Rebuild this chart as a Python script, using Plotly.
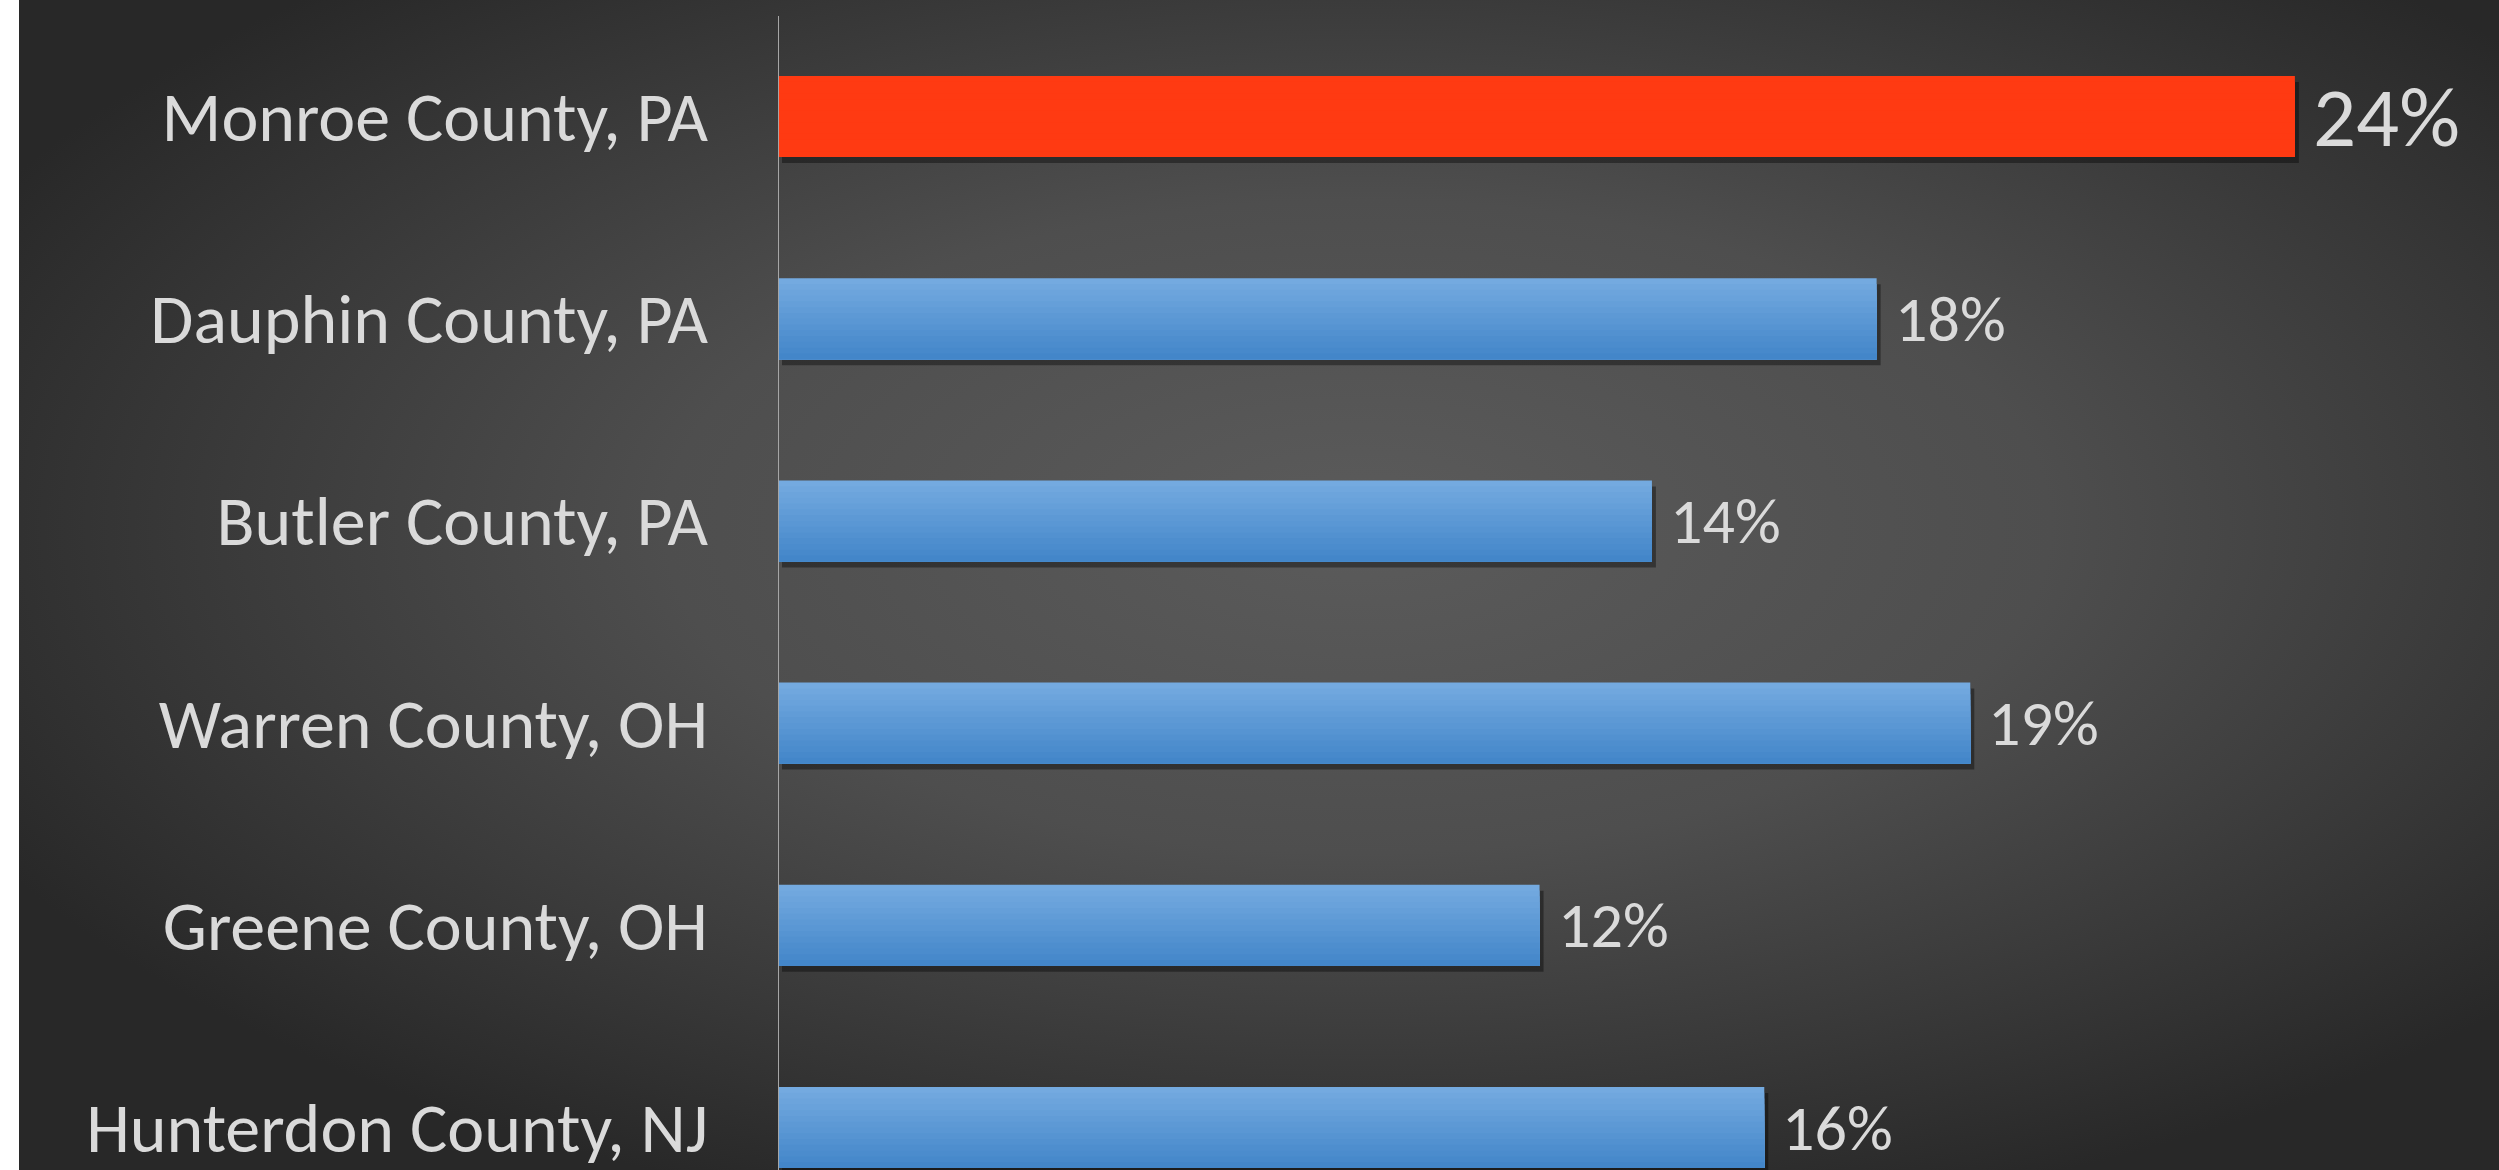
import base64
import plotly.graph_objects as go

# ---- data ----
counties = ["Monroe County, PA", "Dauphin County, PA", "Butler County, PA",
            "Warren County, OH", "Greene County, OH", "Hunterdon County, NJ"]
values = [24.3, 17.6, 14.0, 19.1, 12.2, 15.8]
highlight = [True, False, False, False, False, False]
label_sizes = [85, 64, 64, 64, 64, 64]

W, H = 2499, 1170
L = 778
FONT = "Carlito, Calibri, Lato, sans-serif"
TXT = "#DADADA"
RED = (255, 58, 18)
BLUE_TOP = (116, 170, 224)
BLUE_BOT = (67, 134, 201)

# background radial gradient (svg data uri)
svg = (
    "<svg xmlns='http://www.w3.org/2000/svg' width='2480' height='1170' preserveAspectRatio='none'>"
    "<defs><radialGradient id='g' cx='0.54' cy='0.45' r='0.62'>"
    "<stop offset='0' stop-color='#5B5B5B'/>"
    "<stop offset='0.45' stop-color='#4E4E4E'/>"
    "<stop offset='1' stop-color='#282828'/>"
    "</radialGradient></defs>"
    "<rect width='100%' height='100%' fill='url(#g)'/></svg>"
)
src = "data:image/svg+xml;base64," + base64.b64encode(svg.encode()).decode()

plot_w = W - L
px_per_unit_y = 202.2
bar_w = 81 / px_per_unit_y
xmax = 27.57
px_per_x = plot_w / xmax

fig = go.Figure()

# shadow
fig.add_trace(go.Bar(
    y=counties, x=values, orientation="h",
    base=4 / px_per_x,
    width=bar_w, offset=-bar_w / 2 + 6 / px_per_unit_y,
    marker=dict(color="rgba(0,0,0,0.38)", line=dict(width=0)),
    hoverinfo="skip", showlegend=False,
))

# bars with vertical gradient (progressively shorter overlays, top to bottom)
N = 14
for k in range(N):
    t = k / (N - 1)
    blue = "rgb(%d,%d,%d)" % tuple(round(a + (b - a) * t) for a, b in zip(BLUE_TOP, BLUE_BOT))
    cols = ["rgb(%d,%d,%d)" % RED if h else blue for h in highlight]
    fig.add_trace(go.Bar(
        y=counties, x=values, orientation="h",
        width=bar_w - k * bar_w / N, offset=-bar_w / 2 + k * bar_w / N,
        marker=dict(color=cols, line=dict(width=0)),
        showlegend=False, hoverinfo="skip" if k else "x+y",
    ))

for c, v, s in zip(counties, values, label_sizes):
    fig.add_annotation(
        x=v, y=c, xref="x", yref="y", text=f"{round(v)}%",
        showarrow=False, xanchor="left", yanchor="middle", xshift=16,
        font=dict(family=FONT, size=s, color=TXT),
    )

fig.add_shape(type="line", xref="x", yref="paper", x0=0, x1=0, y0=0, y1=(H - 16) / H,
              line=dict(color="#A6A6A6", width=2))

fig.add_layout_image(dict(
    source=src, xref="paper", yref="paper",
    x=(19 - L) / plot_w, y=1, sizex=(W - 19) / plot_w, sizey=1,
    sizing="stretch", xanchor="left", yanchor="top", layer="below",
))

fig.update_layout(
    width=W, height=H,
    margin=dict(l=L, r=0, t=0, b=0, pad=0),
    paper_bgcolor="white", plot_bgcolor="rgba(0,0,0,0)",
    barmode="overlay",
    xaxis=dict(range=[0, xmax], visible=False, fixedrange=True),
    yaxis=dict(
        range=[5 + (H - 116.5 - 5 * px_per_unit_y) / px_per_unit_y, -116.5 / px_per_unit_y],
        showgrid=False, zeroline=False, showline=False, ticks="",
        tickfont=dict(family=FONT, size=70, color=TXT),
        ticklabelstandoff=69, automargin=False,
    ),
    font=dict(family=FONT),
)

fig.write_html("out.html", config={"displayModeBar": False},
               post_script="document.body.style.margin='0';")
